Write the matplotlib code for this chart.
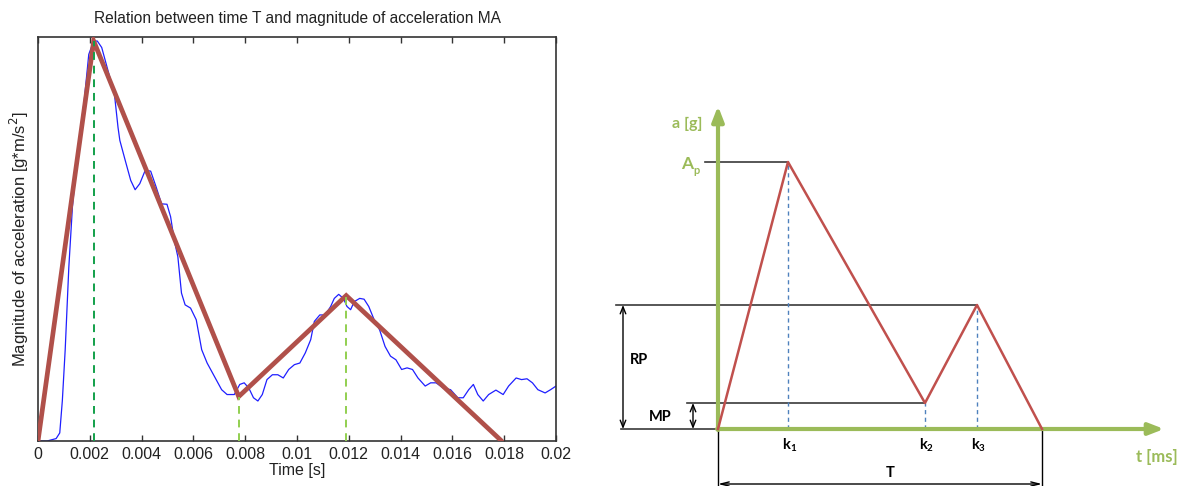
import numpy as np
import matplotlib
matplotlib.use("Agg")
import matplotlib.pyplot as plt

# ---- left panel: measured signal and its piecewise-linear fit ----
sig_t = [0, 0.00035, 0.0007, 0.00084, 0.00094, 0.00105, 0.00119, 0.00133, 0.00154,
         0.00178, 0.00196, 0.00215, 0.00229, 0.00246, 0.00274, 0.00295, 0.00309,
         0.00316, 0.00337, 0.00358, 0.00375, 0.00393, 0.00414, 0.00435, 0.00456,
         0.00477, 0.00498, 0.00512, 0.00526, 0.0054, 0.00554, 0.00568, 0.00589,
         0.00611, 0.00632, 0.00653, 0.00681, 0.00709, 0.0073, 0.00758, 0.00779,
         0.00796, 0.00814, 0.00832, 0.00849, 0.00866, 0.00884, 0.00905, 0.00926,
         0.00947, 0.00968, 0.0099, 0.01011, 0.01032, 0.01053, 0.01067, 0.01088,
         0.01109, 0.0113, 0.01144, 0.01161, 0.01179, 0.01193, 0.01207, 0.01221,
         0.01242, 0.01259, 0.01277, 0.01298, 0.01319, 0.0134, 0.01361, 0.01382,
         0.01404, 0.01425, 0.01446, 0.01467, 0.01495, 0.01516, 0.01537, 0.01565,
         0.01593, 0.01621, 0.01642, 0.01663, 0.01681, 0.01698, 0.01719, 0.0174,
         0.01768, 0.01796, 0.01817, 0.01846, 0.01867, 0.01888, 0.01909, 0.0193,
         0.01958, 0.01979, 0.02]
sig_a = [0, 0, 0.006, 0.02, 0.10, 0.226, 0.43, 0.58, 0.72,
         0.84, 0.957, 0.99, 0.99, 0.974, 0.908, 0.859, 0.776,
         0.744, 0.694, 0.645, 0.622, 0.637, 0.67, 0.668, 0.629,
         0.587, 0.586, 0.555, 0.497, 0.456, 0.366, 0.337, 0.329,
         0.3, 0.226, 0.193, 0.16, 0.127, 0.115, 0.115, 0.14,
         0.144, 0.131, 0.107, 0.099, 0.115, 0.152, 0.164, 0.164,
         0.156, 0.177, 0.189, 0.193, 0.218, 0.251, 0.296, 0.312,
         0.312, 0.333, 0.353, 0.363, 0.353, 0.333, 0.325, 0.345,
         0.353, 0.351, 0.333, 0.3, 0.275, 0.234, 0.21, 0.201,
         0.177, 0.181, 0.177, 0.156, 0.136, 0.144, 0.144, 0.131,
         0.127, 0.107, 0.107, 0.127, 0.14, 0.115, 0.099, 0.115,
         0.126, 0.115, 0.136, 0.156, 0.152, 0.154, 0.144, 0.127,
         0.119, 0.127, 0.136]

fit_t = [0, 0.00215, 0.00775, 0.0119, 0.0179]
fit_a = [0, 0.99, 0.11, 0.36, 0.0]

xticks = [0, 0.002, 0.004, 0.006, 0.008, 0.01, 0.012, 0.014, 0.016, 0.018, 0.02]
xtick_labels = ["0", "0.002", "0.004", "0.006", "0.008", "0.01", "0.012",
                "0.014", "0.016", "0.018", "0.02"]

# ---- right panel: schematic model (units = arbitrary) ----
model_t = [0, 70, 207, 259, 324]        # 0, k1, k2, k3, T
model_a = [0, 267, 26, 124, 0]          # 0, Ap, MP, RP, 0
k_labels = ["1", "2", "3"]

W, H = 1188, 486
fig = plt.figure(figsize=(W / 100, H / 100), dpi=100)

# ------------------------------------------------------------------ left
plt.rcParams["font.family"] = ["Liberation Sans", "DejaVu Sans"]
ax = fig.add_axes([38 / W, 1 - 441 / H, (556 - 38) / W, (441 - 37) / H])
ax.plot(sig_t, sig_a, color="#1f1fff", lw=0.9, zorder=2)
ax.plot(fit_t, fit_a, color="#b0504a", lw=3.4, solid_capstyle="round",
        solid_joinstyle="miter", zorder=3)
ax.plot([fit_t[1]] * 2, [0, fit_a[1]], color="#12a04a", lw=1.4,
        ls=(0, (4, 3)), zorder=4)
for i in (2, 3):
    ax.plot([fit_t[i]] * 2, [0, fit_a[i]], color="#92cf50", lw=1.4,
            ls=(0, (4, 3)), zorder=4)

ax.set_xlim(0, 0.02)
ax.set_ylim(0, 1.0)
ax.set_xticks(xticks)
ax.set_xticklabels(xtick_labels, fontsize=11.5, color="#222222")
ax.set_yticks([])
ax.tick_params(axis="x", direction="in", top=True, length=4, width=1,
               color="#333333", pad=4)
for sp in ax.spines.values():
    sp.set_linewidth(1.2)
    sp.set_color("#333333")
ax.set_xlabel("Time [s]", fontsize=11.5, color="#222222", labelpad=1)
ax.set_ylabel("Magnitude of acceleration [g*m/s$^2$]", fontsize=12,
              color="#222222", labelpad=5)
ax.set_title("Relation between time T and magnitude of acceleration MA",
             fontsize=11.2, color="#222222", pad=10)

# ------------------------------------------------------------------ right
green = "#9bbb59"
red = "#c0504d"
blue = "#4f81bd"
dark = "#3a3a3a"
bold = dict(family=["Lato", "DejaVu Sans"], fontweight="bold")

x0 = 590
bx = fig.add_axes([x0 / W, 0, (W - x0) / W, 1])
bx.set_xlim(x0 - 718, W - 718)
bx.set_ylim(429 - H, 429)
bx.axis("off")

# reference lines
bx.plot([-13, model_t[1]], [model_a[1]] * 2, color=dark, lw=1.2)
bx.plot([-102, model_t[3]], [model_a[3]] * 2, color=dark, lw=1.2)
bx.plot([-31, model_t[2]], [model_a[2]] * 2, color=dark, lw=1.2)
bx.plot([-97, 0], [0, 0], color=dark, lw=1.2)

# k markers
for i in (1, 2, 3):
    bx.plot([model_t[i]] * 2, [0, model_a[i]], color=blue, lw=1,
            ls=(0, (3, 2.5)))

# axes arrows
bx.annotate("", xy=(0, 323), xytext=(0, -1),
            arrowprops=dict(arrowstyle="-|>,head_length=0.9,head_width=0.35",
                            color=green, lw=3, shrinkA=0, shrinkB=0))
bx.annotate("", xy=(446, 0), xytext=(-1, 0),
            arrowprops=dict(arrowstyle="-|>,head_length=0.9,head_width=0.35",
                            color=green, lw=3, shrinkA=0, shrinkB=0))

# model curve
bx.plot(model_t, model_a, color=red, lw=1.8, zorder=3)

# RP / MP dimension arrows
bx.annotate("", xy=(-95, model_a[3]), xytext=(-95, 0),
            arrowprops=dict(arrowstyle="<->,head_length=0.5,head_width=0.2",
                            color="black", lw=1, shrinkA=0, shrinkB=0))
bx.annotate("", xy=(-25, model_a[2]), xytext=(-25, 0),
            arrowprops=dict(arrowstyle="<->,head_length=0.5,head_width=0.2",
                            color="black", lw=1, shrinkA=0, shrinkB=0))

# T bracket
bx.plot([0, 0], [0, -57], color="black", lw=1)
bx.plot([model_t[4]] * 2, [0, -57], color="black", lw=1)
bx.annotate("", xy=(model_t[4], -55), xytext=(0, -55),
            arrowprops=dict(arrowstyle="<->,head_length=0.6,head_width=0.15",
                            color="black", lw=1, shrinkA=0, shrinkB=0))

# labels
bx.text(-31, 305, "a [g]", color=green, fontsize=11.5, ha="center", va="center", **bold)
bx.text(-25, 265, "A", color=green, fontsize=12.5, ha="right", va="center", **bold)
bx.text(-25, 259, "p", color=green, fontsize=8, ha="left", va="center", **bold)
bx.text(439, -28, "t [ms]", color=green, fontsize=12, ha="center", va="center", **bold)
bx.text(-79, 69, "RP", color="black", fontsize=10.5, ha="center", va="center", **bold)
bx.text(-58, 12, "MP", color="black", fontsize=10.5, ha="center", va="center", **bold)
bx.text(172, -44, "T", color="black", fontsize=10.5, ha="center", va="center", **bold)
for i, lab in zip((1, 2, 3), k_labels):
    bx.text(model_t[i] + 2, -16, "k", color="black", fontsize=10.5,
            ha="right", va="center", **bold)
    bx.text(model_t[i] + 2, -19, lab, color="black", fontsize=7,
            ha="left", va="center", **bold)

fig.savefig("out.png", dpi=100)
